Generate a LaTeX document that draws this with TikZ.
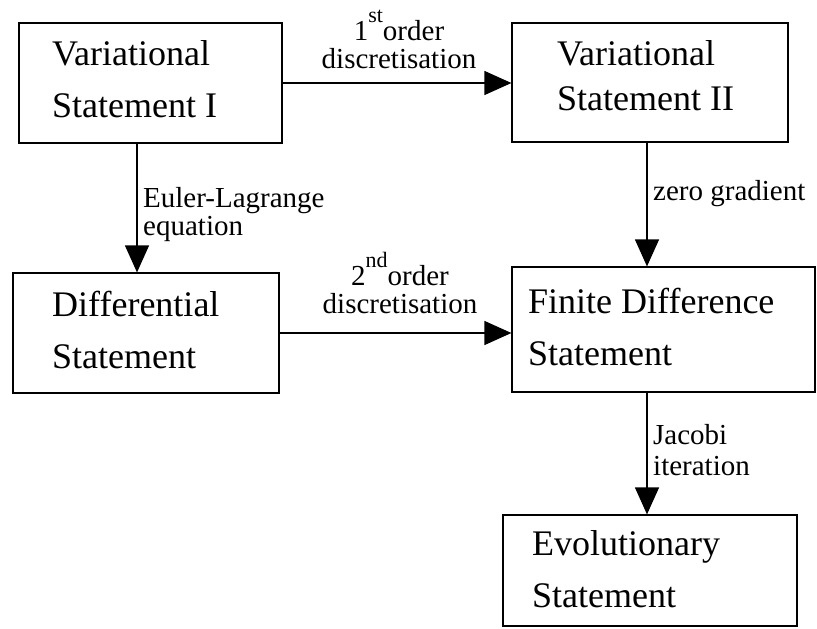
\documentclass[tikz,border=0pt]{standalone}
\usepackage{fontspec}
\setmainfont{Liberation Serif}
\usetikzlibrary{arrows.meta}
\tikzset{
  box/.style={draw, line width=1.2pt, rectangle, inner sep=0pt},
  boxtext/.style={anchor=base west, align=left, inner sep=0pt, font=\fontsize{36}{52}\selectfont},
  lbl/.style={inner sep=0pt, font=\fontsize{29}{28}\selectfont},
  conn/.style={line width=1.2pt, -{Triangle[length=27pt,width=24pt]}}
}
\newcommand{\supr}[1]{\raisebox{18pt}{\fontsize{22}{22}\selectfont #1}}
\begin{document}
\begin{tikzpicture}[x=1pt,y=-1pt]
\useasboundingbox (0,0) rectangle (817,629);
% boxes
\node[box, minimum width=263pt, minimum height=120pt] (vs1) at (150.5,83) {};
\node[box, minimum width=276pt, minimum height=119pt] (vs2) at (650,82.5) {};
\node[box, minimum width=266pt, minimum height=120pt] (diff) at (146,333) {};
\node[box, minimum width=303pt, minimum height=125pt] (fd) at (663.5,329.5) {};
\node[box, minimum width=294pt, minimum height=111pt] (evo) at (650,570.5) {};
% box texts (anchor at baseline of last line)
\node[boxtext] (t1) at (52,117) {Variational\\Statement I};
\node[boxtext, font=\fontsize{36}{45}\selectfont] (t2) at (557,110) {Variational\\Statement II};
\node[boxtext] (t3) at (52,368) {Differential\\Statement};
\node[boxtext] (t4) at (528,365) {Finite Difference\\Statement};
\node[boxtext] (t5) at (532,607) {Evolutionary\\Statement};
% guide coordinates
\coordinate (xa) at (137,0);
\coordinate (xb) at (647,0);
% connectors
\draw[conn] (vs1.east) -- (vs1.east -| vs2.west);
\draw[conn] (vs1.south -| xa) -- (diff.north -| xa);
\draw[conn] (vs2.south -| xb) -- (fd.north -| xb);
\draw[conn] (diff.east) -- (diff.east -| fd.west);
\draw[conn] (fd.south -| xb) -- (evo.north -| xb);
% labels
\node[lbl, anchor=base, align=center] (l1) at (399,68) {1\supr{st}order\\discretisation};
\node[lbl, anchor=base, align=center] (l2) at (400,313) {2\supr{nd}order\\discretisation};
\node[lbl, anchor=base west, align=left] (l3) at (143,235) {Euler-Lagrange\\equation};
\node[lbl, anchor=base west] (l4) at (653,200) {zero gradient};
\node[lbl, anchor=base west, align=left, font=\fontsize{29}{31}\selectfont] (l5) at (653,475) {Jacobi\\iteration};
\end{tikzpicture}
\end{document}
